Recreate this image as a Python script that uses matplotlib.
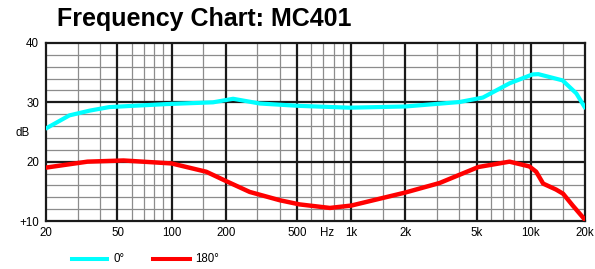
import matplotlib
matplotlib.use("Agg")
import matplotlib.pyplot as plt
from matplotlib import font_manager as fm

# ---- data ----
freq_0 = [20, 27, 35, 45, 60, 93, 170, 220, 310, 515, 980, 2000, 4000, 5400, 7600, 10200, 11000, 15000, 17900, 20000]
db_0 = [25.6, 27.8, 28.6, 29.2, 29.4, 29.7, 30.0, 30.6, 29.8, 29.4, 29.1, 29.3, 30.05, 30.8, 33.2, 34.7, 34.75, 33.7, 31.5, 29.1]

freq_180 = [20, 34, 54, 100, 156, 202, 272, 400, 515, 760, 1000, 2000, 3100, 5100, 7600, 9800, 10700, 11700, 13800, 15100, 17100, 20000]
db_180 = [19.0, 20.0, 20.2, 19.7, 18.3, 16.7, 14.9, 13.5, 12.8, 12.2, 12.6, 14.8, 16.4, 19.1, 20.0, 19.2, 18.3, 16.3, 15.3, 14.6, 12.6, 10.2]

x_ticks = [20, 50, 100, 200, 500, 1000, 2000, 5000, 10000, 20000]
x_labels = ["20", "50", "100", "200", "500", "1k", "2k", "5k", "10k", "20k"]
x_major = [50, 100, 200, 500, 1000, 2000, 5000, 10000]
x_minor = [30, 40, 60, 70, 80, 90, 150, 300, 400, 600, 700, 800, 900, 1500,
           3000, 4000, 6000, 7000, 8000, 9000, 15000]
y_ticks = [10, 20, 30, 40]
y_labels = ["+10", "20", "30", "40"]
series_labels = ["0°", "180°"]
title = "Frequency Chart: MC401"

names = {f.name for f in fm.fontManager.ttflist}
if "Liberation Sans Narrow" in names:
    title_family = ["Liberation Sans Narrow", "DejaVu Sans"]
    title_size = 22
else:
    title_family = ["Liberation Sans", "DejaVu Sans"]
    title_size = 18
plt.rcParams["font.family"] = ["Liberation Sans", "DejaVu Sans"]

fig = plt.figure(figsize=(5.95, 2.69), dpi=100)
W, H = 595, 269
ax = fig.add_axes([46 / W, 1 - 221 / H, (585 - 46) / W, (221 - 43) / H])
ax.set_xscale("log")
ax.set_xlim(20, 20000)
ax.set_ylim(10, 40)

# grid
for f in x_minor:
    ax.axvline(f, color="#8c8c8c", lw=0.9, zorder=1)
for f in x_major:
    ax.axvline(f, color="#1a1a1a", lw=1.6, zorder=2)
for d in range(12, 40, 2):
    if d % 10:
        ax.axhline(d, color="#8c8c8c", lw=0.9, zorder=1)
for d in [20, 30]:
    ax.axhline(d, color="#1a1a1a", lw=1.6, zorder=2)

ax.plot(freq_0, db_0, color="#00FFFF", lw=3.0, solid_capstyle="round", zorder=3)
ax.plot(freq_180, db_180, color="#FF0000", lw=3.2, solid_capstyle="round", zorder=3)

for s in ax.spines.values():
    s.set_linewidth(1.6)
    s.set_color("#1a1a1a")

ax.set_xticks(x_ticks)
ax.set_xticklabels(x_labels, fontsize=8.3)
ax.xaxis.set_minor_locator(matplotlib.ticker.NullLocator())
ax.set_yticks(y_ticks)
ax.set_yticklabels(y_labels, fontsize=8.3)
ax.tick_params(axis="x", length=0, pad=4)
ax.tick_params(axis="y", length=0, pad=5)

ax.annotate("Hz", xy=(735, 0), xycoords=("data", "axes fraction"),
            xytext=(0, -4), textcoords="offset points",
            fontsize=8.3, ha="center", va="top")
fig.text(15 / W, 1 - 133 / H, "dB", fontsize=8.3, ha="left", va="center")

fig.text(57 / W, 1 - 19 / H, title, fontsize=title_size, fontweight="bold",
         family=title_family, ha="left", va="center")

# legend
ly = 1 - 259 / H
fig.add_artist(plt.Line2D([72 / W, 107 / W], [ly, ly], color="#00FFFF", lw=2.9))
fig.text(113 / W, ly, series_labels[0], fontsize=8.3, va="center")
fig.add_artist(plt.Line2D([153 / W, 190 / W], [ly, ly], color="#FF0000", lw=2.9))
fig.text(195 / W, ly, series_labels[1], fontsize=8.3, va="center")

fig.savefig("out.png", dpi=100)
